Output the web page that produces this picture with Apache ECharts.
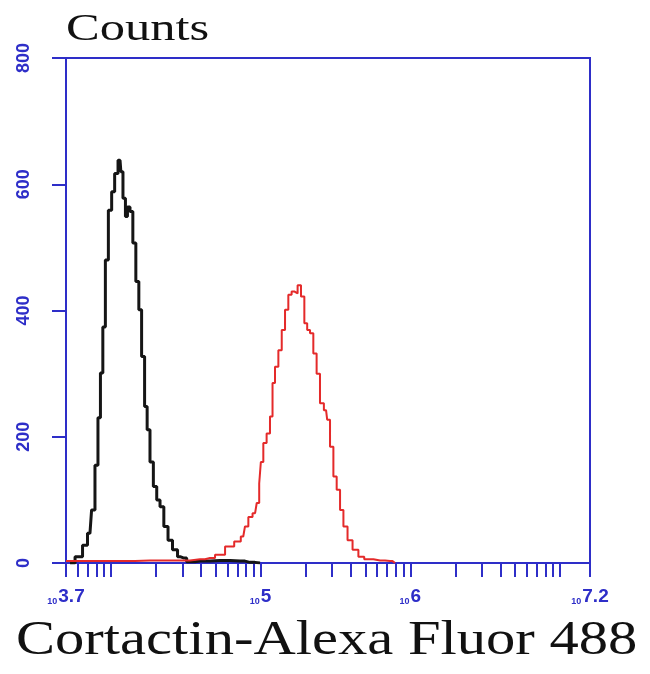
<!DOCTYPE html>
<html>
<head>
<meta charset="utf-8">
<script src="https://cdn.jsdelivr.net/npm/echarts@6/dist/echarts.min.js"></script>
<style>html,body{margin:0;padding:0;background:#fff}#c{width:650px;height:674px}</style>
</head>
<body>
<div id="c"></div>
<script>
// x values are log10(fluorescence intensity)
const controlLog = [3.727,3.794,3.827,3.860,3.882,3.905,3.922,3.938,3.954,3.972,3.994,4.016,4.034,4.061,4.072,4.089,4.105,4.116,4.139,4.154,4.179,4.194,4.216,4.234,4.250,4.272,4.295,4.317,4.339,4.368,4.395,4.428,4.462,4.484,4.528,4.595,4.729,4.862,4.929,4.996];
const controlCounts = [0,10,28,47,84,155,230,301,374,480,559,588,617,638,620,578,549,564,557,507,446,401,327,248,211,160,121,100,89,58,36,21,10,8,2,3,4,3,1,0];
const sampleLog = [3.70,3.827,4.061,4.261,4.462,4.595,4.662,4.729,4.796,4.851,4.884,4.907,4.929,4.963,4.985,4.996,5.007,5.029,5.051,5.074,5.085,5.107,5.130,5.152,5.174,5.196,5.218,5.236,5.258,5.281,5.303,5.319,5.341,5.363,5.385,5.408,5.437,5.452,5.475,5.497,5.519,5.542,5.564,5.597,5.631,5.675,5.709,5.798,5.864,5.898];
const sampleCounts = [3,3,3,4,4,6,8,13,26,34,42,58,73,79,95,126,160,190,205,232,285,311,337,369,401,425,430,427,440,422,380,369,364,332,300,253,242,227,184,137,116,84,58,36,21,10,6,4,3,0];
const xMinorTickIntensities = [6e3,7e3,8e3,9e3,1e4,2e4,3e4,4e4,5e4,6e4,7e4,8e4,9e4,1e5,2e5,3e5,4e5,5e5,6e5,7e5,8e5,9e5,1e6,2e6,3e6,4e6,5e6,6e6,7e6,8e6,9e6,1e7];
const xLabelExponents = ['3.7','5','6','7.2'];
const yTicks = [0,200,400,600,800];
const yTitle = 'Counts';
const xTitle = 'Cortactin-Alexa Fluor 488';

const blue = '#2e2ec8';
const xExtent = [3.7, 7.2];
const xTickVals = [xExtent[0]].concat(xMinorTickIntensities.map(v => Math.log10(v))).concat([xExtent[1]]);
const xLabelVals = xLabelExponents.map(Number);

const chart = echarts.init(document.getElementById('c'), null, {renderer: 'canvas'});
chart.setOption({
  backgroundColor: '#fff',
  animation: false,
  grid: {left: 66, right: 60, top: 58, bottom: 111, show: true, borderColor: blue, borderWidth: 2, backgroundColor: 'transparent'},
  xAxis: {
    type: 'value', min: xExtent[0], max: xExtent[1],
    axisLine: {show: true, onZero: false, lineStyle: {color: blue, width: 2}},
    axisTick: {show: true, inside: false, length: 14, lineStyle: {color: blue, width: 2}, customValues: xTickVals},
    splitLine: {show: false},
    axisLabel: {
      customValues: xLabelVals, margin: 24, color: blue,
      formatter: function (v) {
        let i = xLabelVals.findIndex(x => Math.abs(x - v) < 1e-6);
        return '{a|10}{b|' + (i >= 0 ? xLabelExponents[i] : v) + '}';
      },
      rich: {
        a: {fontSize: 9, fontWeight: 'bold', color: blue, fontFamily: 'Liberation Sans', verticalAlign: 'bottom', padding: [8, 1, 0, 0]},
        b: {fontSize: 19, fontWeight: 'bold', color: blue, fontFamily: 'Liberation Sans'}
      }
    }
  },
  yAxis: {
    type: 'value', min: yTicks[0], max: yTicks[yTicks.length - 1], interval: 200,
    axisLine: {show: true, lineStyle: {color: blue, width: 2}},
    axisTick: {show: true, inside: false, length: 14, lineStyle: {color: blue, width: 2}},
    splitLine: {show: false},
    axisLabel: {rotate: 90, margin: 33, color: blue, fontSize: 18, fontWeight: 'bold', fontFamily: 'Liberation Sans Narrow, Liberation Sans'}
  },
  series: [
    {type: 'line', data: controlLog.map((x, i) => [x, controlCounts[i]]), step: 'middle', symbol: 'none', lineStyle: {color: '#151515', width: 3}, z: 3},
    {type: 'line', data: sampleLog.map((x, i) => [x, sampleCounts[i]]), step: 'middle', symbol: 'none', lineStyle: {color: '#e42a2a', width: 2}, z: 4}
  ],
  graphic: [
    {type: 'text', x: 66, y: 11, scaleX: 1.33, style: {text: yTitle, font: '38px "Liberation Serif"', fill: '#111', textAlign: 'left', textVerticalAlign: 'top'}},
    {type: 'text', x: 16, y: 617, scaleX: 1.22, style: {text: xTitle, font: '48px "Liberation Serif"', fill: '#111', textAlign: 'left', textVerticalAlign: 'top'}}
  ]
});
</script>
</body>
</html>
